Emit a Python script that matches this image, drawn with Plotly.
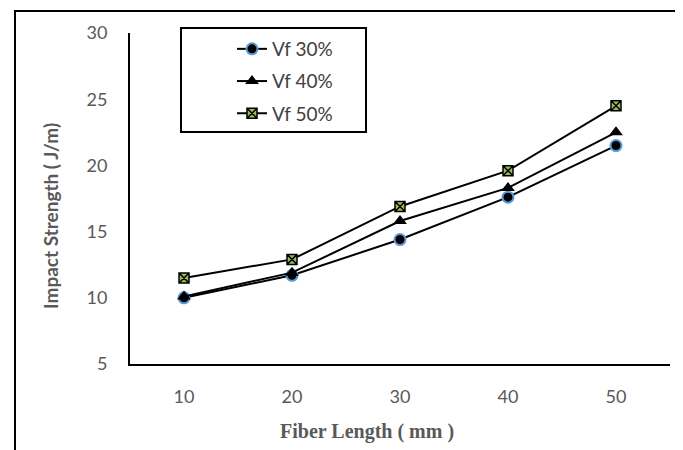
import plotly.graph_objects as go

categories = ["10", "20", "30", "40", "50"]
vf30 = [10.0, 11.7, 14.4, 17.6, 21.5]
vf40 = [10.1, 11.9, 15.8, 18.3, 22.5]
vf50 = [11.5, 12.9, 16.9, 19.6, 24.5]
series_names = ["Vf 30%", "Vf 40%", "Vf 50%"]
y_ticks = [5, 10, 15, 20, 25, 30]
x_title = "Fiber Length ( mm )"
y_title = "Impact Strength ( J/m)"

# page (px, py) -> paper coords; plot area spans page x 129..669, y 32..363
def px(x):
    return (x - 129) / 540

def py(y):
    return (363 - y) / 331

fig = go.Figure()
fig.add_trace(go.Scatter(
    x=categories, y=vf30, name=series_names[0], mode="lines+markers", legendgroup="a",
    line=dict(color="black", width=2),
    marker=dict(symbol="circle", size=11, color="black", line=dict(color="#5B9BD5", width=2)),
))
fig.add_trace(go.Scatter(
    x=categories, y=vf40, name=series_names[1], mode="lines+markers", legendgroup="b",
    line=dict(color="black", width=2),
    marker=dict(symbol="triangle-up", size=12, color="black", line=dict(color="black", width=0)),
))
fig.add_trace(go.Scatter(
    x=categories, y=vf50, name=series_names[2], mode="lines+markers", legendgroup="c",
    line=dict(color="black", width=2),
    marker=dict(symbol="square-x", size=10, color="#9BBB59", line=dict(color="black", width=1.5)),
))

tick_font = dict(family="Lato, 'Open Sans', sans-serif", size=18, color="#595959")

fig.update_layout(
    width=683, height=450,
    margin=dict(l=122, r=21, t=25, b=94),
    paper_bgcolor="white", plot_bgcolor="white",
    showlegend=True,
    legend=dict(
        x=px(231), y=py(29), xanchor="left", yanchor="top",
        bgcolor="rgba(0,0,0,0)", borderwidth=0,
        font=dict(family="Lato, 'Open Sans', sans-serif", size=19, color="#404040"),
        tracegroupgap=4.5,
    ),
    xaxis=dict(
        type="category", range=[-0.5, 4.5],
        showline=True, linecolor="black", linewidth=2,
        showgrid=False, ticks="", tickfont=tick_font,
        ticklabelstandoff=15,
    ),
    yaxis=dict(
        range=[5, 30], tickvals=y_ticks,
        showline=True, linecolor="black", linewidth=2,
        showgrid=False, zeroline=False, ticks="", tickfont=tick_font,
        ticklabelstandoff=17,
    ),
    annotations=[
        dict(text="<b>" + x_title + "</b>", xref="paper", yref="paper",
             x=px(366), y=py(430), xanchor="center", yanchor="middle", showarrow=False,
             font=dict(family="'Liberation Serif', 'Times New Roman', serif", size=20, color="#595959")),
        dict(text="<b>" + y_title + "</b>", xref="paper", yref="paper",
             x=px(50), y=py(215), xanchor="center", yanchor="middle", showarrow=False, textangle=-90,
             font=dict(family="Lato, 'Open Sans', sans-serif", size=19, color="#595959")),
    ],
    shapes=[
        # outer chart border
        dict(type="rect", xref="paper", yref="paper",
             x0=px(14), x1=px(678), y0=py(470), y1=py(10),
             line=dict(color="black", width=2), fillcolor="rgba(0,0,0,0)", layer="below"),
        # legend box
        dict(type="rect", xref="paper", yref="paper",
             x0=px(180), x1=px(365), y0=py(131), y1=py(27),
             line=dict(color="black", width=2), fillcolor="rgba(0,0,0,0)"),
    ],
)

fig.write_html("out.html")
